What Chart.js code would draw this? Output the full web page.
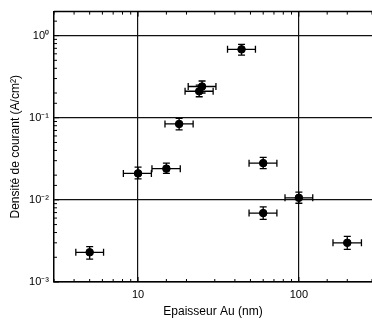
<!DOCTYPE html>
<html><head><meta charset="utf-8">
<script src="https://cdn.jsdelivr.net/npm/chart.js@4"></script>
<style>html,body{margin:0;padding:0;background:#fff}#wrap{width:372px;height:323px;position:relative}</style>
</head><body><div id="wrap"><canvas id="c"></canvas></div>
<script>
const thickness     = [5.0, 10, 15, 18, 24, 25, 44, 60, 60, 100, 200];
const thicknessLow  = [4.1, 8.1, 12.2, 14.7, 19.6, 20.5, 36, 49, 49, 82, 163];
const thicknessHigh = [6.1, 12.1, 18.3, 22, 29.3, 30.5, 53.7, 73, 73, 122, 245];
const density     = [0.0023, 0.021, 0.024, 0.084, 0.21, 0.24, 0.68, 0.028, 0.0069, 0.0106, 0.0030];
const densityLow  = [0.0019, 0.018, 0.021, 0.071, 0.18, 0.20, 0.58, 0.024, 0.0058, 0.0091, 0.0025];
const densityHigh = [0.0027, 0.025, 0.028, 0.098, 0.25, 0.28, 0.78, 0.033, 0.0082, 0.0124, 0.0036];
const yTickLabels = {"1": "10\u2070", "0.1": "10\u207B\u00B9", "0.01": "10\u207B\u00B2", "0.001": "10\u207B\u00B3"};
const xTickLabels = {"10": "10", "100": "100"};
const xTitle = "Epaisseur Au (nm)";
const yTitle = "Densit\u00E9 de courant (A/cm\u00B2)";

const isDecade = v => Math.abs(Math.log10(v) - Math.round(Math.log10(v))) < 1e-6;

const errorBars = {
  id: 'errorBars',
  afterDatasetsDraw(chart) {
    const {ctx, scales: {x, y}} = chart;
    ctx.save();
    ctx.strokeStyle = '#000';
    ctx.lineWidth = 1.3;
    for (let i = 0; i < thickness.length; i++) {
      const px = x.getPixelForValue(thickness[i]);
      const py = y.getPixelForValue(density[i]);
      const xl = x.getPixelForValue(thicknessLow[i]);
      const xh = x.getPixelForValue(thicknessHigh[i]);
      const yl = y.getPixelForValue(densityLow[i]);
      const yh = y.getPixelForValue(densityHigh[i]);
      ctx.beginPath();
      ctx.moveTo(xl, py); ctx.lineTo(xh, py);
      ctx.moveTo(xl, py - 3.5); ctx.lineTo(xl, py + 3.5);
      ctx.moveTo(xh, py - 3.5); ctx.lineTo(xh, py + 3.5);
      ctx.moveTo(px, yl); ctx.lineTo(px, yh);
      ctx.moveTo(px - 3.5, yl); ctx.lineTo(px + 3.5, yl);
      ctx.moveTo(px - 3.5, yh); ctx.lineTo(px + 3.5, yh);
      ctx.stroke();
    }
    ctx.restore();
  }
};

const frameTicks = {
  id: 'frameTicks',
  afterDraw(chart) {
    const {ctx, chartArea: a, scales: {x, y}} = chart;
    ctx.save();
    ctx.strokeStyle = '#000';
    ctx.lineWidth = 1.5;
    ctx.beginPath();
    ctx.moveTo(a.left, a.top); ctx.lineTo(a.right, a.top);
    ctx.stroke();
    ctx.lineWidth = 1;
    ctx.beginPath();
    x.ticks.forEach(t => {
      const p = x.getPixelForValue(t.value);
      if (p < a.left || p > a.right) return;
      const len = isDecade(t.value) ? 5 : 3;
      ctx.moveTo(p, a.bottom); ctx.lineTo(p, a.bottom - len);
      ctx.moveTo(p, a.top); ctx.lineTo(p, a.top + len);
    });
    y.ticks.forEach(t => {
      const p = y.getPixelForValue(t.value);
      if (p < a.top || p > a.bottom) return;
      const len = isDecade(t.value) ? 5 : 3;
      ctx.moveTo(a.left, p); ctx.lineTo(a.left + len, p);
    });
    ctx.stroke();
    ctx.restore();
  }
};

const font = {family: "'Liberation Sans', Arial, sans-serif", size: 11};
const titleFont = {family: "'Liberation Sans', Arial, sans-serif", size: 12};

new Chart(document.getElementById('c'), {
  type: 'scatter',
  data: {
    datasets: [{
      data: thickness.map((v, i) => ({x: v, y: density[i]})),
      backgroundColor: '#000',
      borderColor: '#000',
      pointRadius: 3.8,
      pointHoverRadius: 3.8
    }]
  },
  options: {
    responsive: true,
    maintainAspectRatio: false,
    animation: false,
    events: [],
    layout: {autoPadding: false, padding: {top: 11, right: 0, left: 8, bottom: 4}},
    plugins: {legend: {display: false}, tooltip: {enabled: false}},
    scales: {
      x: {
        type: 'logarithmic',
        min: 3, max: 285,
        afterFit: s => { s.height = 37; s.paddingRight = 0; s.paddingLeft = 0; },
        border: {display: true, color: '#000', width: 1.5},
        grid: {
          drawTicks: false,
          color: c => (c.tick && isDecade(c.tick.value)) ? '#111' : 'rgba(0,0,0,0)',
          lineWidth: 1.2
        },
        ticks: {
          autoSkip: false, maxRotation: 0, color: '#000', font, padding: 6,
          callback: v => xTickLabels[String(v)] || ''
        },
        title: {display: true, text: xTitle, color: '#000', font: titleFont, padding: {top: 4, bottom: 0}}
      },
      y: {
        type: 'logarithmic',
        min: 0.001, max: 1.96,
        afterFit: s => { s.width = 46; },
        border: {display: true, color: '#000', width: 1.5},
        grid: {
          drawTicks: false,
          color: c => (c.tick && isDecade(c.tick.value)) ? '#111' : 'rgba(0,0,0,0)',
          lineWidth: 1.2
        },
        ticks: {
          autoSkip: false, color: '#000', font, padding: 5,
          callback: v => yTickLabels[String(v)] || ''
        },
        title: {display: true, text: yTitle, color: '#000', font: titleFont, padding: {top: 0, bottom: 4}}
      }
    }
  },
  plugins: [errorBars, frameTicks]
});
</script>
</body></html>
